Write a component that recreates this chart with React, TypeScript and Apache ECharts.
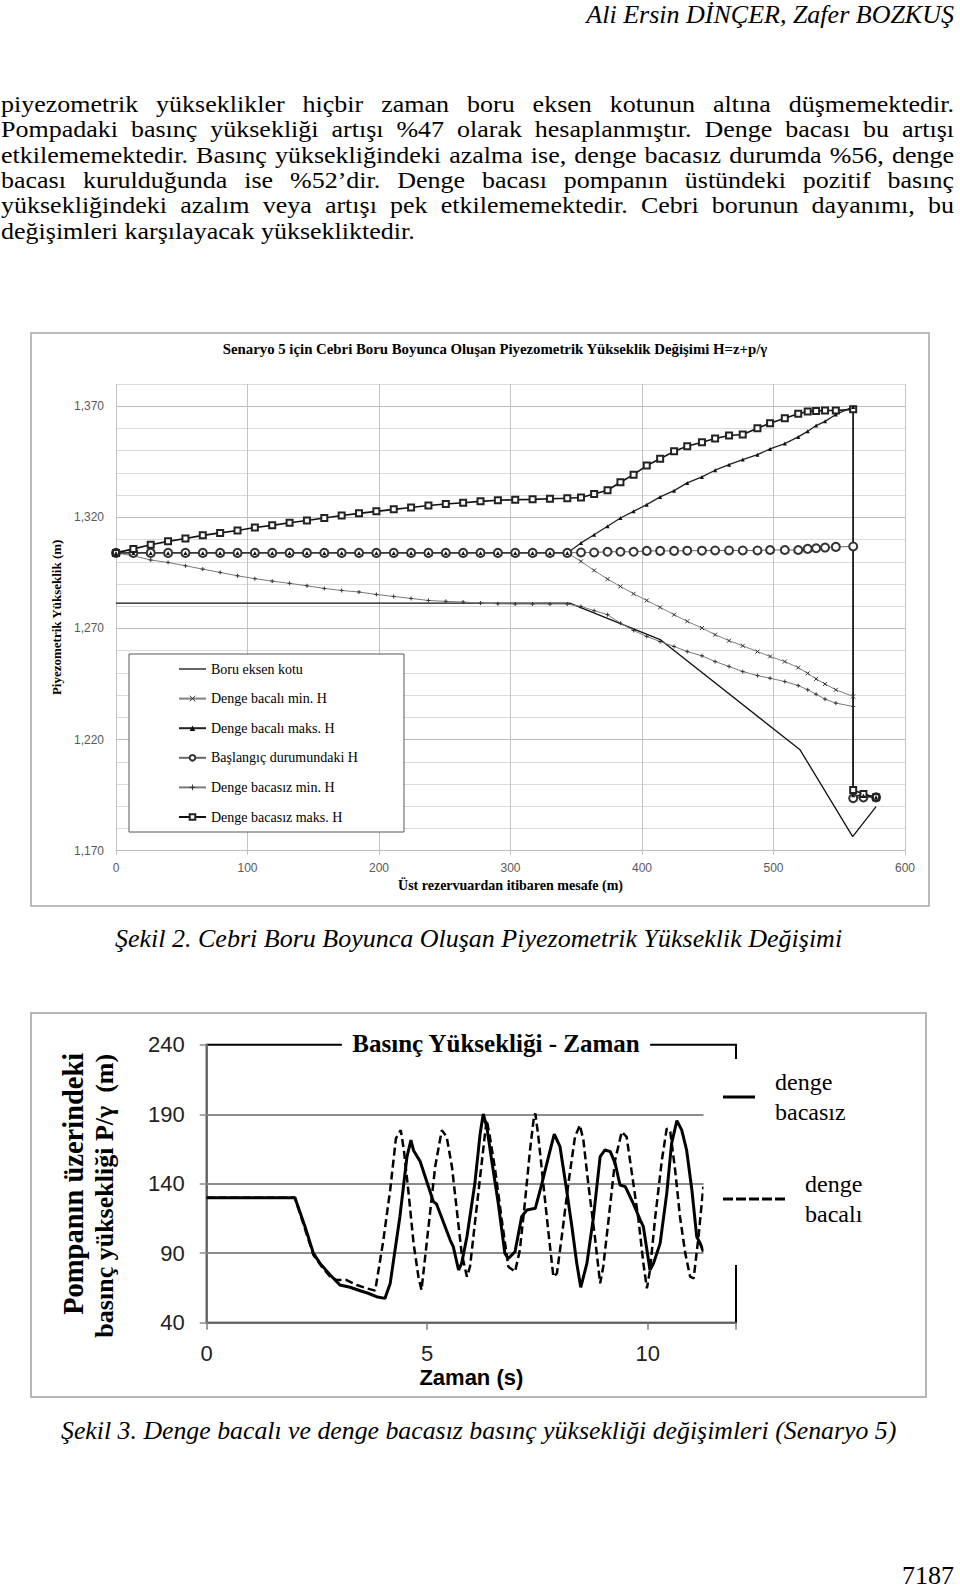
import React, { useEffect, useRef } from 'react';
import * as echarts from 'echarts';

// ---------- Figure 2 data (Şekil 2) ----------
const TITLE_1 = 'Senaryo 5 için Cebri Boru Boyunca Oluşan Piyezometrik Yükseklik Değişimi H=z+p/γ';
const X_NAME_1 = 'Üst rezervuardan itibaren mesafe (m)';
const Y_NAME_1 = 'Piyezometrik Yükseklik (m)';
const SERIES_1_NAMES = [
  'Boru eksen kotu',
  'Denge bacalı min. H',
  'Denge bacalı maks. H',
  'Başlangıç durumundaki H',
  'Denge bacasız min. H',
  'Denge bacasız maks. H',
];

const DISTANCE = [
  0, 13.2, 26.4, 39.6, 52.8, 66, 79.2, 92.4, 105.6, 118.8, 132, 145.2, 158.4, 171.6, 184.8, 198, 211.2,
  224.4, 237.6, 250.8, 264, 277.2, 290.4, 303.6, 316.8, 330, 343.2, 353.6, 363.6, 373.8, 383.6, 393.6,
  403.6, 413.8, 424.4, 434.4, 445.6, 455.6, 466.2, 476.6, 487.8, 497.4, 508.6, 518.8, 526, 532.4, 539.2,
  547.4, 560.6, 560.6, 568.4, 578,
];

const BORU_X = [0, 345, 413.8, 520.2, 560.2, 578];
const BORU_H = [1281.4, 1281.4, 1265.0, 1215.4, 1176.3, 1189.8];

const BACALI_MIN = [
  1304, 1304, 1304, 1304, 1304, 1304, 1304, 1304, 1304, 1304, 1304, 1304, 1304, 1304, 1304, 1304, 1304,
  1304, 1304, 1304, 1304, 1304, 1304, 1304, 1304, 1304, 1304, 1300.2, 1296.1, 1292.2, 1288.9, 1285.6,
  1282.6, 1279.5, 1276.2, 1273.2, 1270.2, 1267.2, 1264.5, 1262.2, 1259.6, 1257.4, 1255.1, 1252.4, 1249.8,
  1247.3, 1245.0, 1242.4, 1239.4, 1194.2, 1194.5, 1194.0,
];
const BACALI_MAKS = [
  1304, 1304, 1304, 1304, 1304, 1304, 1304, 1304, 1304, 1304, 1304, 1304, 1304, 1304, 1304, 1304, 1304,
  1304, 1304, 1304, 1304, 1304, 1304, 1304, 1304, 1304, 1304, 1308.5, 1312.2, 1316.0, 1319.7, 1322.7,
  1325.7, 1329.2, 1332.0, 1335.5, 1338.2, 1341.2, 1343.7, 1346.0, 1348.2, 1350.8, 1353.2, 1356.2, 1358.7,
  1361.3, 1363.2, 1366.3, 1369.7, 1195.0, 1194.8, 1194.0,
];
const BASLANGIC = [
  1304, 1304, 1304, 1304, 1304, 1304, 1304, 1304, 1304, 1304, 1304, 1304, 1304, 1304, 1304, 1304, 1304,
  1304, 1304, 1304, 1304, 1304, 1304, 1304, 1304, 1304, 1304, 1304.2, 1304.2, 1304.5, 1304.5, 1304.5,
  1304.9, 1304.9, 1304.9, 1305.0, 1305.0, 1305.1, 1305.1, 1305.1, 1305.1, 1305.3, 1305.3, 1305.3, 1305.8,
  1306.1, 1306.4, 1306.7, 1306.9, 1193.6, 1194.0, 1194.0,
];
const BACASIZ_MIN = [
  1304.0, 1302.7, 1300.8, 1299.7, 1298.2, 1296.7, 1295.2, 1293.7, 1292.4, 1291.3, 1290.3, 1289.2, 1288.0,
  1287.1, 1286.4, 1285.3, 1284.4, 1283.5, 1282.6, 1282.2, 1281.9, 1281.4, 1281.1, 1281.0, 1281.0, 1281.0,
  1281.0, 1279.9, 1278.0, 1276.2, 1272.4, 1269.1, 1266.4, 1264.1, 1261.9, 1259.6, 1257.7, 1255.1, 1252.9,
  1250.6, 1248.8, 1247.6, 1246.1, 1244.3, 1242.4, 1240.4, 1238.2, 1236.4, 1234.9, 1193.8, 1194.2, 1194.0,
];
const BACASIZ_MAKS = [
  1304.0, 1305.8, 1307.7, 1309.2, 1310.5, 1311.9, 1313.0, 1314.1, 1315.4, 1316.4, 1317.6, 1318.6, 1319.7,
  1320.8, 1321.8, 1322.7, 1323.6, 1324.4, 1325.3, 1326.0, 1326.6, 1327.2, 1327.7, 1327.9, 1328.1, 1328.4,
  1328.6, 1328.9, 1330.5, 1332.2, 1335.8, 1339.2, 1343.3, 1346.4, 1349.7, 1352.0, 1353.8, 1355.5, 1356.8,
  1357.3, 1360.1, 1362.3, 1364.6, 1366.6, 1367.6, 1367.9, 1368.1, 1368.1, 1368.6, 1197.3, 1195.5, 1194.0,
];

// ---------- Figure 3 data (Şekil 3) ----------
const TITLE_2 = 'Basınç Yüksekliği - Zaman';
const X_NAME_2 = 'Zaman (s)';
const Y_NAME_2_LINES = ['Pompanın üzerindeki', 'basınç yüksekliği P/γ  (m)'];
const SERIES_2_NAMES = ['denge bacasız', 'denge bacalı'];

const TIME_BACASIZ = [
  0, 2.0, 2.23, 2.42, 2.57, 2.80, 3.02, 3.25, 3.48, 3.66, 3.85, 4.04, 4.16, 4.38, 4.54, 4.63, 4.69, 4.84,
  5.14, 5.21, 5.52, 5.59, 5.71, 5.78, 5.90, 6.08, 6.20, 6.27, 6.35, 6.46, 6.61, 6.76, 6.84, 6.99, 7.14,
  7.26, 7.45, 7.60, 7.75, 7.88, 8.01, 8.16, 8.28, 8.39, 8.48, 8.62, 8.77, 8.92, 9.03, 9.15, 9.26, 9.37,
  9.49, 9.67, 9.83, 9.90, 10.05, 10.13, 10.28, 10.43, 10.54, 10.66, 10.77, 10.88, 11.00, 11.11, 11.19, 11.26,
];
const HEAD_BACASIZ = [
  130, 130, 109.1, 89.9, 82.7, 74.3, 67.1, 65.5, 63.0, 61.2, 58.7, 57.5, 68.3, 116.3, 159.4, 171.4, 164,
  156, 127.1, 125.4, 99.5, 94.7, 77.9, 82.7, 101.9, 140.3, 176.2, 190.2, 181.0, 157.1, 125.9, 89.9, 86.3,
  91.1, 116.3, 121.1, 122.3, 140.3, 159.5, 175.8, 166.7, 135.5, 109.1, 82.7, 65.5, 82.7, 116.3, 159.5,
  164.3, 163.1, 154.7, 139.1, 137.9, 125.9, 113.9, 109.1, 77.9, 82.7, 97.1, 133.1, 169.0, 185.4, 178.6,
  164.3, 135.5, 101.9, 97.1, 91.1,
];
const TIME_BACALI = [
  0, 2.0, 2.42, 2.61, 2.80, 2.95, 3.17, 3.40, 3.63, 3.82, 4.00, 4.16, 4.29, 4.40, 4.47, 4.57, 4.69, 4.80,
  4.87, 4.99, 5.18, 5.33, 5.44, 5.56, 5.67, 5.78, 5.90, 5.97, 6.08, 6.20, 6.31, 6.35, 6.42, 6.54, 6.69,
  6.84, 6.99, 7.10, 7.22, 7.33, 7.41, 7.45, 7.52, 7.63, 7.75, 7.86, 7.94, 8.05, 8.20, 8.35, 8.46, 8.54,
  8.65, 8.80, 8.92, 8.99, 9.11, 9.26, 9.41, 9.52, 9.64, 9.79, 9.90, 9.98, 10.05, 10.17, 10.32, 10.43,
  10.51, 10.62, 10.73, 10.85, 10.96, 11.04, 11.15, 11.26,
];
const HEAD_BACALI = [
  130, 130, 88.7, 80.3, 73.1, 70.7, 70.7, 67.1, 64.7, 63.1, 98.3, 135.5, 172.7, 178.6, 164.3, 135.5, 97.1,
  73.1, 63.5, 98, 152.3, 178.6, 173.8, 152.3, 121.1, 89.9, 73.1, 80.3, 111.5, 145.1, 176.2, 185.8, 173.8,
  149.9, 113.9, 80.3, 76.7, 92.3, 128.3, 164.3, 185.8, 190.6, 173.8, 140.3, 104.3, 73.1, 75.5, 101.9,
  140.3, 173.8, 182.2, 171.4, 140.3, 101.9, 68.3, 80.3, 113.9, 157.1, 177.4, 173.8, 147.5, 113.9, 82.7,
  64.7, 77.9, 116.3, 157.1, 179.8, 177.4, 149.9, 116.3, 89.9, 73.1, 71.9, 101.9, 137.9,
];

// ---------- Page text ----------
const HEADER = 'Ali Ersin DİNÇER, Zafer BOZKUŞ';
const BODY_LINES = [
  'piyezometrik yükseklikler hiçbir zaman boru eksen kotunun altına düşmemektedir.',
  'Pompadaki basınç yüksekliği artışı %47 olarak hesaplanmıştır. Denge bacası bu artışı',
  'etkilememektedir. Basınç yüksekliğindeki azalma ise, denge bacasız durumda %56, denge',
  'bacası kurulduğunda ise %52’dir. Denge bacası pompanın üstündeki pozitif basınç',
  'yüksekliğindeki azalım veya artışı pek etkilememektedir. Cebri borunun dayanımı, bu',
  'değişimleri karşılayacak yüksekliktedir.',
];
const CAPTION_1 = 'Şekil 2. Cebri Boru Boyunca Oluşan Piyezometrik Yükseklik Değişimi';
const CAPTION_2 = 'Şekil 3. Denge bacalı ve denge bacasız basınç yüksekliği değişimleri (Senaryo 5)';
const PAGE_NO = '7187';

const SERIF = "'Liberation Serif', 'Times New Roman', serif";
const SANS = "'Liberation Sans', Arial, sans-serif";

const pairs = (xs: number[], ys: number[]) => xs.map((x, i) => [x, ys[i]]);

const X_MARK = 'path://M0,0L10,10M10,0L0,10';
const PLUS_MARK = 'path://M5,0L5,10M0,5L10,5';
const DASH_ICON = 'path://M0,0h10v3h-10z M13,0h10v3h-10z M26,0h10v3h-10z M39,0h10v3h-10z M52,0h10v3h-10z';

function buildOption(): any {
  const commaFmt = (v: number) =>
    Math.round(v - 1170) % 50 === 0 ? `${Math.floor(v / 1000)},${String(Math.round(v % 1000)).padStart(3, '0')}` : '';

  return {
    animation: false,
    title: [
      {
        text: TITLE_1,
        left: 490,
        top: 336,
        textAlign: 'center',
        textStyle: { fontFamily: SERIF, fontSize: 14.8, fontWeight: 'bold', color: '#000' },
      },
      {
        text: TITLE_2,
        left: 486,
        top: 1029,
        textAlign: 'center',
        backgroundColor: '#fff',
        padding: [2, 10],
        textStyle: { fontFamily: SERIF, fontSize: 25, fontWeight: 'bold', color: '#000' },
      },
    ],
    grid: [
      { left: 116, top: 384, width: 789, height: 466.7 },
      { left: 206.7, top: 1044.8, width: 529.3, height: 277.9, show: true, borderColor: '#000', borderWidth: 2 },
    ],
    xAxis: [
      {
        type: 'value',
        gridIndex: 0,
        min: 0,
        max: 600,
        interval: 100,
        axisLine: { lineStyle: { color: '#bfbfbf', width: 1 } },
        axisTick: { show: true, length: 4, lineStyle: { color: '#bfbfbf' } },
        axisLabel: { fontFamily: SANS, fontSize: 12, color: '#595959', margin: 11 },
        splitLine: { show: true, lineStyle: { color: '#c4c4c4', width: 1 } },
        name: X_NAME_1,
        nameLocation: 'middle',
        nameGap: 28,
        nameTextStyle: { fontFamily: SERIF, fontSize: 14, fontWeight: 'bold', color: '#000' },
      },
      {
        type: 'value',
        gridIndex: 1,
        min: 0,
        max: 12,
        interval: 5,
        axisLine: { lineStyle: { color: '#7f7f7f', width: 1.5 } },
        axisTick: { show: true, length: 7, lineStyle: { color: '#7f7f7f', width: 1.5 } },
        axisLabel: {
          fontFamily: SANS,
          fontSize: 22,
          color: '#222',
          margin: 20,
          formatter: (v: number) => (v > 11 ? '' : String(v)),
        },
        splitLine: { show: false },
        name: X_NAME_2,
        nameLocation: 'middle',
        nameGap: 44,
        nameTextStyle: { fontFamily: SANS, fontSize: 22, fontWeight: 'bold', color: '#000' },
      },
    ],
    yAxis: [
      {
        type: 'value',
        gridIndex: 0,
        min: 1170,
        max: 1380,
        interval: 10,
        axisLine: { show: false },
        axisTick: { show: false },
        axisLabel: { fontFamily: SANS, fontSize: 12, color: '#595959', margin: 12, formatter: commaFmt },
        splitLine: {
          show: true,
          lineStyle: { color: ['#bdbdbd', '#dadada', '#dadada', '#dadada', '#dadada'], width: 1 },
        },
        name: Y_NAME_1,
        nameLocation: 'middle',
        nameGap: 50,
        nameTextStyle: { fontFamily: SERIF, fontSize: 13, fontWeight: 'bold', color: '#000' },
      },
      {
        type: 'value',
        gridIndex: 1,
        min: 40,
        max: 240,
        interval: 50,
        axisLine: { show: true, lineStyle: { color: '#7f7f7f', width: 1.5 } },
        axisTick: { show: true, length: 7, lineStyle: { color: '#8c8c8c', width: 1.5 } },
        axisLabel: { fontFamily: SANS, fontSize: 22, color: '#222', margin: 22 },
        splitLine: {
          show: true,
          showMinLine: false,
          showMaxLine: false,
          lineStyle: { color: '#8c8c8c', width: 2 },
        },
        name: `{a|${Y_NAME_2_LINES[0]}}\n{b|${Y_NAME_2_LINES[1]}}`,
        nameLocation: 'middle',
        nameGap: 86,
        nameTextStyle: {
          fontFamily: SERIF,
          fontSize: 26,
          fontWeight: 'bold',
          color: '#000',
          lineHeight: 31.5,
          rich: {
            a: { fontFamily: SERIF, fontSize: 28.5, fontWeight: 'bold', color: '#000', lineHeight: 31.5 },
            b: {
              fontFamily: SERIF,
              fontSize: 26,
              fontWeight: 'bold',
              color: '#000',
              lineHeight: 31.5,
              padding: [0, 24, 0, 0],
            },
          },
        },
      },
    ],
    legend: [
      {
        data: [
          { name: SERIES_1_NAMES[0], icon: 'path://M0,0h27v1.3h-27z' },
          SERIES_1_NAMES[1],
          SERIES_1_NAMES[2],
          SERIES_1_NAMES[3],
          SERIES_1_NAMES[4],
          SERIES_1_NAMES[5],
        ],
        orient: 'vertical',
        left: 129,
        top: 654,
        padding: [8, 46, 8, 49],
        itemGap: 15.6,
        itemWidth: 27,
        itemHeight: 7,
        borderColor: '#595959',
        borderWidth: 1,
        backgroundColor: '#fff',
        selectedMode: false,
        itemStyle: { borderWidth: 1 },
        textStyle: { fontFamily: SERIF, fontSize: 14, color: '#000' },
        z: 20,
      },
      {
        data: [{ name: SERIES_2_NAMES[0], icon: 'rect' }],
        left: 723,
        top: 1067,
        padding: 0,
        itemWidth: 32,
        itemHeight: 3,
        selectedMode: false,
        formatter: (n: string) => n.replace(' ', '\n'),
        textStyle: { fontFamily: SERIF, fontSize: 24, color: '#000', lineHeight: 30, padding: [0, 0, 0, 15] },
        z: 20,
      },
      {
        data: [{ name: SERIES_2_NAMES[1], icon: DASH_ICON }],
        left: 723,
        top: 1169,
        padding: 0,
        itemWidth: 62,
        itemHeight: 3,
        selectedMode: false,
        formatter: (n: string) => n.replace(' ', '\n'),
        textStyle: { fontFamily: SERIF, fontSize: 24, color: '#000', lineHeight: 30, padding: [0, 0, 0, 15] },
        z: 20,
      },
    ],
    graphic: [
      {
        type: 'rect',
        shape: { x: 31, y: 333, width: 898, height: 573 },
        style: { fill: 'none', stroke: '#a6a6a6', lineWidth: 1.5 },
        z: 0,
      },
      {
        type: 'rect',
        shape: { x: 31, y: 1013, width: 895, height: 384 },
        style: { fill: 'none', stroke: '#a0a0a0', lineWidth: 1.5 },
        z: 0,
      },
      {
        type: 'rect',
        shape: { x: 703.5, y: 1059, width: 212, height: 206 },
        style: { fill: '#fff' },
        z: 10,
      },
    ],
    series: [
      {
        name: SERIES_1_NAMES[0],
        type: 'line',
        xAxisIndex: 0,
        yAxisIndex: 0,
        data: pairs(BORU_X, BORU_H),
        symbol: 'none',
        lineStyle: { color: '#111', width: 1.3 },
        itemStyle: { color: '#111' },
      },
      {
        name: SERIES_1_NAMES[4],
        type: 'line',
        xAxisIndex: 0,
        yAxisIndex: 0,
        data: pairs(DISTANCE, BACASIZ_MIN),
        symbol: PLUS_MARK,
        symbolSize: 4,
        lineStyle: { color: '#7a7a7a', width: 1 },
        itemStyle: { color: '#333', borderColor: '#333', borderWidth: 1 },
      },
      {
        name: SERIES_1_NAMES[1],
        type: 'line',
        xAxisIndex: 0,
        yAxisIndex: 0,
        data: pairs(DISTANCE, BACALI_MIN),
        symbol: X_MARK,
        symbolSize: 4,
        lineStyle: { color: '#808080', width: 1 },
        itemStyle: { color: '#333', borderColor: '#333', borderWidth: 1 },
      },
      {
        name: SERIES_1_NAMES[3],
        type: 'line',
        xAxisIndex: 0,
        yAxisIndex: 0,
        data: pairs(DISTANCE, BASLANGIC),
        symbol: 'emptyCircle',
        symbolSize: 8,
        lineStyle: { color: '#666', width: 1 },
        itemStyle: { color: '#333', borderColor: '#333', borderWidth: 1.3 },
      },
      {
        name: SERIES_1_NAMES[5],
        type: 'line',
        xAxisIndex: 0,
        yAxisIndex: 0,
        data: pairs(DISTANCE, BACASIZ_MAKS),
        symbol: 'emptyRect',
        symbolSize: 6,
        lineStyle: { color: '#111', width: 1.6 },
        itemStyle: { color: '#222', borderColor: '#222', borderWidth: 1.1 },
      },
      {
        name: SERIES_1_NAMES[2],
        type: 'line',
        xAxisIndex: 0,
        yAxisIndex: 0,
        data: pairs(DISTANCE, BACALI_MAKS),
        symbol: 'triangle',
        symbolSize: 4,
        lineStyle: { color: '#222', width: 1.3 },
        itemStyle: { color: '#111' },
      },
      {
        name: SERIES_2_NAMES[0],
        type: 'line',
        xAxisIndex: 1,
        yAxisIndex: 1,
        data: pairs(TIME_BACASIZ, HEAD_BACASIZ),
        symbol: 'none',
        lineStyle: { color: '#000', width: 3 },
        itemStyle: { color: '#000' },
      },
      {
        name: SERIES_2_NAMES[1],
        type: 'line',
        xAxisIndex: 1,
        yAxisIndex: 1,
        data: pairs(TIME_BACALI, HEAD_BACALI),
        symbol: 'none',
        lineStyle: { color: '#000', width: 2.5, type: [8, 4] },
        itemStyle: { color: '#000' },
      },
    ],
  };
}

const textBase: React.CSSProperties = {
  position: 'absolute',
  fontFamily: SERIF,
  fontSize: 26,
  lineHeight: '25.4px',
  color: '#000',
  whiteSpace: 'nowrap',
  margin: 0,
};

const BODY_TOPS = [91.8, 117.2, 142.6, 167.9, 193.3, 218.7];

export default function App() {
  const ref = useRef<HTMLDivElement>(null);
  useEffect(() => {
    if (!ref.current) return;
    const chart = echarts.init(ref.current, null, { renderer: 'svg', width: 960, height: 1592 });
    chart.setOption(buildOption());
    return () => chart.dispose();
  }, []);

  return (
    <div style={{ position: 'absolute', left: 0, top: 0, width: 960, height: 1592, background: '#fff', overflow: 'hidden' }}>
      <div ref={ref} style={{ position: 'absolute', left: 0, top: 0, width: 960, height: 1592 }} />
      <div style={{ ...textBase, right: 6, top: 1.5, fontStyle: 'italic' }}>{HEADER}</div>
      {BODY_LINES.map((line, i) => (
        <div
          key={i}
          style={{
            ...textBase,
            left: 1,
            width: 953,
            top: BODY_TOPS[i],
            transform: 'scaleY(0.87)',
            transformOrigin: '50% 50%',
            textAlign: i < BODY_LINES.length - 1 ? 'justify' : 'left',
            textAlignLast: i < BODY_LINES.length - 1 ? 'justify' : 'auto',
          } as React.CSSProperties}
        >
          {line}
        </div>
      ))}
      <div style={{ ...textBase, left: 115, top: 926, fontStyle: 'italic' }}>{CAPTION_1}</div>
      <div style={{ ...textBase, left: 61, top: 1418.3, fontStyle: 'italic', fontSize: 25.8 }}>{CAPTION_2}</div>
      <div style={{ ...textBase, right: 6, top: 1563.3 }}>{PAGE_NO}</div>
    </div>
  );
}
